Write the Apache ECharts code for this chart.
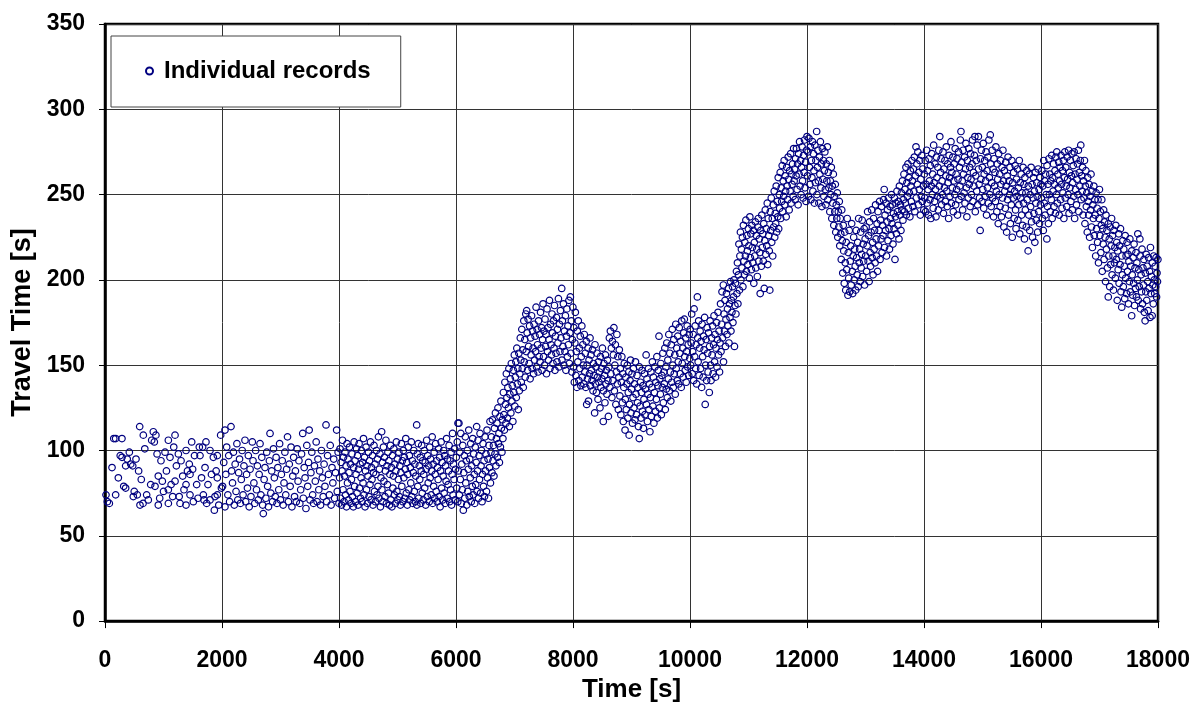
<!DOCTYPE html>
<html>
<head>
<meta charset="utf-8">
<title>Travel time records</title>
<script src="https://cdn.jsdelivr.net/npm/echarts/dist/echarts.min.js"></script>
<style>
  html, body { margin: 0; padding: 0; background: #fff; }
  #chart { width: 1200px; height: 708px; }
</style>
</head>
<body>
<div id="chart"></div>
<script>
// Individual vehicle records: [time of record (s), travel time (s)]
const freeFlowA = [
[17,74],[40,70],[74,69],[120,90],[150,107],[182,107],[182,74],[228,84],[260,97],[290,107],[291,96],[320,79],[353,78],[353,91],[380,95],[416,99],[440,92],[474,91],[484,73],[500,76],[530,95],[552,74],[575,88],[593,114],[598,68],[620,83],[650,69],[655,109],[680,101],[712,74],[740,71],[781,80],[798,106],[826,111],[843,105],[855,79],[870,109],[890,98],[911,85],[911,68],[935,72],[957,94],[980,82],[1000,76],[1026,99],[1050,88],[1083,106],[1083,77],[1083,69],[1111,96],[1130,80],[1157,73],[1175,102],[1197,109],[1197,82],[1220,91],[1254,98],[1268,73],[1283,69],[1300,94],[1328,85],[1350,77],[1385,100],[1385,80],[1385,68],[1410,88],[1441,92],[1453,86],[1453,74],[1482,105],[1498,89],[1510,70],[1530,97],[1567,80],[1590,72],[1612,102],[1624,97],[1650,84],[1669,102],[1681,74],[1692,71],[1710,90],[1726,105],[1738,69],[1760,80],[1795,100],[1795,71],[1820,86],[1852,96],[1869,65],[1880,73],[1900,88],[1920,97],[1920,84],[1920,74],[1945,68],[1977,109],[1990,78]
];
const freeFlowB = [
[2010,79],[2030,93],[2051,112],[2051,67],[2065,86],[2080,102],[2100,74],[2115,97],[2130,70],[2154,114],[2165,88],[2180,81],[2195,99],[2210,68],[2225,92],[2240,76],[2255,104],[2270,71],[2285,87],[2300,95],[2315,69],[2330,83],[2345,100],[2360,74],[2375,91],[2393,106],[2405,70],[2420,86],[2435,78],[2450,97],[2465,67],[2480,89],[2495,73],[2518,105],[2530,94],[2545,81],[2560,69],[2575,100],[2590,77],[2605,91],[2620,71],[2635,86],[2650,104],[2665,74],[2680,96],[2695,68],[2706,63],[2720,83],[2735,90],[2750,72],[2765,99],[2780,79],[2795,67],[2810,94],[2821,110],[2835,75],[2850,88],[2865,70],[2880,101],[2895,84],[2910,73],[2925,96],[2940,69],[2955,90],[2970,77],[2985,104],[3000,71],[3015,86],[3030,94],[3045,68],[3060,81],[3075,99],[3090,74],[3105,89],[3120,108],[3135,70],[3150,92],[3165,79],[3180,102],[3195,67],[3210,85],[3225,96],[3240,73],[3255,88],[3270,70],[3285,101],[3300,82],[3315,94],[3330,69],[3345,77],[3360,98],[3380,110],[3390,72],[3405,90],[3420,84],[3435,66],[3450,103],[3465,79],[3480,93],[3490,112],[3505,71],[3520,87],[3535,99],[3550,74],[3565,69],[3580,91],[3595,82],[3610,105],[3625,70],[3640,95],[3655,77],[3670,88],[3685,68],[3700,100],[3715,84],[3730,73],[3745,92],[3760,79],[3778,115],[3790,70],[3805,97],[3820,86],[3835,74],[3850,103],[3865,68],[3880,90],[3895,81],[3910,95],[3925,72],[3940,87],[3960,112],[3970,76],[3985,99],[4000,69]
];
const freeFlowC = [
[4010,84],[4018,101],[4026,72],[4035,93],[4043,68],[4052,88],[4060,106],[4069,77],[4077,96],[4086,70],[4094,85],[4103,99],[4111,74],[4120,91],[4128,67],[4137,104],[4145,81],[4154,95],[4162,71],[4171,87],[4179,102],[4188,76],[4196,92],[4205,69],[4213,83],[4222,98],[4230,73],[4245,67],[4250,90],[4258,105],[4266,79],[4275,94],[4283,70],[4292,86],[4300,101],[4309,75],[4317,97],[4326,68],[4334,89],[4343,104],[4351,78],[4360,92],[4368,72],[4377,84],[4385,100],[4394,70],[4402,93],[4411,81],[4419,107],[4428,74],[4436,96],[4445,67],[4453,88],[4462,102],[4470,77],[4479,91],[4487,69],[4496,85],[4504,99],[4513,73],[4521,94],[4530,80],[4538,105],[4547,71],[4555,90],[4564,83],[4572,97],[4581,68],[4589,87],[4598,103],[4606,76],[4615,92],[4623,70],[4632,86],[4640,100],[4649,74],[4657,95],[4666,79],[4674,108],[4683,72],[4691,89],[4700,98],[4708,67],[4717,84],[4729,111],[4734,77],[4743,93],[4751,70],[4760,102],[4768,82],[4777,96],[4785,73],[4794,88],[4802,106],[4811,69],[4819,91],[4828,80],[4836,99],[4845,75],[4853,94],[4862,68],[4870,86],[4879,103],[4887,71],[4896,90],[4904,67],[4913,97],[4921,78],[4930,85],[4938,101],[4947,74],[4955,92],[4964,69],[4972,88],[4981,105],[4989,76],[4998,95],[5006,71],[5015,83],[5023,99],[5032,73],[5040,91],[5049,68],[5057,87],[5066,104],[5074,79],[5083,94],[5091,70],[5100,100],[5108,84],[5117,96],[5125,72],[5134,89],[5142,107],[5151,75],[5159,93],[5168,68],[5176,86],[5185,102],[5193,77],[5202,97],[5210,71],[5219,90],[5227,81],[5236,105],[5244,73],[5253,94],[5261,69],[5270,87],[5278,100],[5287,76],[5295,92],[5304,70],[5312,85],[5328,115],[5330,68],[5338,98],[5346,79],[5355,104],[5363,72],[5372,91],[5380,83],[5389,96],[5397,69],[5406,88],[5414,103],[5423,75],[5431,94],[5440,71],[5448,86],[5457,100],[5465,78],[5474,93],[5482,68],[5491,89],[5499,106],[5508,73],[5516,97],[5525,81],[5533,91],[5542,70],[5550,102],[5559,84],[5567,95],[5576,74],[5584,88],[5593,108],[5601,69],[5610,92],[5618,79],[5627,99],[5635,72],[5644,86],[5652,104],[5661,76],[5669,94],[5678,70],[5686,90],[5695,83],[5703,101],[5712,73],[5720,96],[5729,67],[5737,88],[5746,105],[5754,78],[5763,93],[5771,71],[5780,85],[5788,100],[5797,75],[5805,97],[5814,69],[5822,91],[5831,82],[5839,107],[5848,72],[5856,95],[5865,80],[5873,88],[5882,103],[5890,70],[5899,94],[5907,77],[5916,99],[5924,68],[5933,86],[5941,110],[5950,74],[5958,92],[5967,83],[5975,101],[5984,71],[5992,89]
];
const onsetRecords = [
[6005,96],[6013,78],[6022,105],[6030,70],[6034,116],[6040,88],[6050,116],[6057,74],[6065,99],[6074,83],[6082,110],[6091,69],[6099,92],[6108,77],[6116,103],[6125,65],[6133,87],[6142,97],[6150,72],[6159,108],[6167,81],[6176,94],[6184,68],[6193,100],[6201,76],[6210,89],[6218,112],[6227,73],[6235,95],[6244,84],[6252,104],[6261,70],[6269,91],[6278,79],[6286,107],[6295,74],[6303,98],[6312,86],[6320,69],[6329,102],[6337,80],[6346,93],[6353,114],[6360,76],[6368,88],[6377,106],[6385,72],[6394,97],[6402,83],[6411,110],[6419,75],[6428,91],[6436,100],[6445,70],[6453,86],[6462,104],[6470,79],[6479,94],[6487,73],[6496,108],[6504,88],[6513,98],[6521,76],[6530,112],[6538,84],[6547,95],[6555,72],[6564,103],[6572,90],[6581,117],[6589,81],[6598,99],[6606,108],[6615,87],[6623,118],[6632,94],[6640,103],[6649,85],[6657,113],[6666,98],[6674,122],[6683,91],[6691,107],[6700,116],[6708,96],[6717,125],[6725,104],[6734,110],[6742,93],[6751,120],[6759,102],[6768,129],[6776,113],[6785,99],[6793,118],
[6802,107],[6810,134],[6819,121],[6827,112],[6836,140],[6844,127],[6853,116],[6861,145],[6870,131],[6878,119],[6887,137],[6895,125],[6904,148],[6912,114],[6921,133],[6929,142],[6938,122],[6946,151],[6955,129],[6963,138],[6972,117],[6980,147],[6989,134],[6997,156],[7006,126],[7014,143],[7023,152],[7031,131],[7040,160],[7048,139],[7057,148],[7065,124],[7074,157],[7082,135],[7091,145],[7099,166],[7108,153],[7116,140],[7125,171],[7133,148],[7142,159],[7150,137],[7159,176],[7167,152],[7176,165],[7184,143],[7193,180],[7201,158],[7208,182],[7216,169],[7224,147],[7233,177],[7241,161],[7250,151],[7258,173],[7267,142],[7275,166],[7284,156],[7292,179],[7301,148],[7309,170],[7318,160],[7326,145],[7335,174],[7343,153],[7352,167],[7360,158],[7369,184],[7377,149],[7386,171],[7394,162],[7403,146],[7411,176],[7420,155],[7428,168],[7437,152],[7445,181],[7454,160],[7462,172],[7471,147],[7479,165],[7488,186],[7496,155],[7505,170],[7513,150],[7522,177],[7530,161],[7539,168],[7547,145],[7556,183],[7564,158],[7573,172],[7581,153],[7590,165],[7598,188],[7607,148],[7615,174],[7624,162],[7632,156],[7641,180],[7649,169],[7658,151],[7666,176],[7675,160],[7683,185],[7692,147],[7700,167],[7709,157],[7717,178],[7726,152],[7734,171],[7743,163],[7751,189],[7760,149],[7768,174],[7777,158],[7785,182],[7794,166],[7807,195],[7811,153],[7819,176],[7828,161],[7836,186],[7845,150],[7853,170],[7862,158],[7870,179],[7879,147],[7887,167],[7896,183],[7904,155],[7913,173],[7921,162],[7930,188],[7938,151],[7947,169],[7955,190],[7964,157],[7972,176],[7981,146],[7989,165],[7998,184]
];
const firstQueueRecords = [
[8006,149],[8015,172],[8023,140],[8032,163],[8040,181],[8049,144],[8057,158],[8066,137],[8074,170],[8083,152],[8091,176],[8100,141],[8108,160],[8117,148],[8125,167],[8134,138],[8142,155],[8151,173],[8159,143],[8168,162],[8176,150],[8185,139],[8193,168],[8202,146],[8210,157],[8219,137],[8227,164],[8234,127],[8240,150],[8248,142],[8257,160],[8265,129],[8274,153],[8282,145],[8291,166],[8299,138],[8308,156],[8316,147],[8325,141],[8333,159],[8342,135],[8350,151],[8359,144],[8370,122],[8376,162],[8384,139],[8393,149],[8401,134],[8410,157],[8418,143],[8427,130],[8435,152],[8444,140],[8452,146],[8461,125],[8469,155],[8478,137],[8486,148],[8495,142],[8503,160],[8518,117],[8520,135],[8529,151],[8537,144],[8546,128],[8554,156],[8563,139],[8571,147],[8580,133],[8588,153],[8597,141],[8605,120],[8614,149],[8622,166],[8631,137],[8639,170],[8648,145],[8656,160],[8665,131],[8673,164],[8682,141],[8690,156],[8699,172],[8707,135],[8716,150],[8724,162],[8733,127],[8741,146],[8750,168],[8758,139],[8767,155],[8775,124],[8784,143],[8792,159],
[8801,132],[8809,148],[8818,121],[8826,140],[8835,155],[8843,128],[8852,145],[8860,117],[8869,137],[8877,151],[8890,112],[8894,130],[8903,143],[8911,124],[8920,139],[8928,150],[8937,119],[8945,134],[8954,146],[8960,109],[8966,127],[8975,141],[8983,153],[8992,122],[9000,136],[9009,145],[9017,116],[9026,131],[9034,148],[9043,125],[9051,139],[9060,118],[9068,152],[9077,133],[9085,121],[9094,144],[9102,128],[9111,137],[9119,114],[9133,107],[9136,149],[9145,126],[9153,140],[9162,119],[9170,134],[9179,147],[9187,123],[9196,138],[9204,113],[9213,130],[9221,145],[9230,121],[9238,136],[9250,156],[9255,127],[9264,142],[9272,117],[9281,133],[9289,148],[9298,124],[9306,139],[9315,111],[9323,131],[9332,146],[9340,120],[9349,137],[9357,152],[9366,126],[9374,143],[9383,116],[9391,134],[9400,149],[9408,123],[9417,140],[9425,130],[9434,155],[9442,119],[9451,138],[9459,147],[9470,167],[9476,125],[9485,142],[9493,133],[9502,151],[9510,121],[9519,144],[9527,137],[9536,157],[9544,128],[9553,146],[9561,139],[9570,160],[9578,124],[9587,149],[9595,136],[9604,163],[9612,131],[9621,153],[9629,142],[9638,168],[9646,135],[9655,157],[9663,146],[9672,129],[9680,162],[9689,140],[9697,171],[9706,150],[9714,137],[9723,165],[9731,145],[9740,156],[9748,133],[9757,174],[9765,148],[9774,160],[9782,141],[9791,167],[9799,152],[9808,139],[9816,172],[9825,157],[9833,145],[9842,164],[9850,137],[9859,176],[9867,151],[9876,160],[9884,143],[9893,169],[9903,177],[9910,155],[9918,147],[9927,166],[9935,140],[9944,158],[9952,173],[9961,149],[9969,162],[9978,144],[9986,168],[9995,154]
];
const growthRecords = [
[10003,171],[10012,150],[10020,163],[10029,180],[10037,145],[10046,158],[10054,168],[10063,141],[10070,183],[10080,155],[10088,173],[10097,148],[10105,162],[10114,139],[10126,190],[10131,166],[10139,152],[10148,176],[10156,144],[10165,160],[10173,170],[10182,148],[10190,164],[10199,137],[10207,174],[10216,155],[10224,143],[10233,167],[10241,159],[10250,178],[10260,127],[10267,150],[10275,165],[10284,141],[10292,172],[10301,157],[10309,146],[10318,169],[10330,134],[10335,161],[10343,176],[10352,150],[10360,141],[10369,166],[10377,156],[10386,173],[10394,145],[10403,162],[10411,179],[10420,152],[10428,168],[10437,143],[10445,160],[10454,175],[10462,149],[10471,165],[10479,181],[10488,156],[10496,170],[10505,146],[10513,163],[10522,186],[10530,158],[10539,174],[10547,193],[10556,166],[10570,197],[10573,152],[10581,180],[10590,170],[10598,188],[10607,161],[10615,177],[10624,192],[10632,168],[10641,183],[10649,173],[10658,195],[10666,163],[10675,186],[10683,178],[10692,199],[10700,170],[10709,188],[10717,181],[10726,196],[10734,175],[10743,190],[10751,200],[10760,161],[10768,185],[10777,198],[10785,180],[10794,205],[10802,192],
[10811,210],[10819,186],[10828,203],[10836,221],[10845,194],[10853,214],[10862,228],[10870,200],[10879,218],[10887,207],[10896,225],[10904,196],[10913,232],[10921,211],[10930,203],[10938,222],[10947,214],[10955,235],[10964,205],[10972,226],[10981,217],[10989,209],[10998,230],[11006,220],[11015,201],[11023,237],[11032,213],[11040,227],[11049,206],[11057,232],[11066,219],[11074,210],[11083,229],[11091,198],[11100,222],[11108,214],[11117,234],[11125,207],[11134,226],[11142,218],[11151,202],[11160,231],[11168,236],[11176,211],[11185,224],[11193,216],[11200,192],[11210,229],[11219,208],[11227,238],[11236,219],[11244,227],[11253,211],[11261,233],[11270,195],[11278,223],[11287,241],[11295,215],[11304,230],[11312,220],[11321,245],[11329,209],[11338,236],[11346,226],[11355,217],[11364,194],[11372,240],[11380,229],[11389,248],[11397,222],[11406,236],[11414,214],[11423,244],[11431,231],[11440,252],[11448,225],[11457,239],[11465,233],[11474,255],[11482,228],[11491,246],[11499,237],[11508,260],[11516,230],[11525,250],[11533,242],[11542,263],[11550,236],[11559,254],[11567,246],[11576,267],[11584,240],[11593,258],[11601,249],[11610,270],[11618,244],[11627,261],[11635,252],[11644,237],[11652,266],[11661,255],[11669,247],[11678,272],[11686,259],[11695,241],[11703,264],[11712,252],[11720,274],[11729,245],[11737,262],[11746,256],[11754,268],[11763,249],[11771,277],[11780,258],[11788,265],[11797,247],[11805,271],[11814,261],[11820,277],[11831,253],[11839,268],[11848,244],[11856,274],[11865,262],[11873,281],[11882,255],[11890,270],[11899,250],[11907,266],[11916,278],[11924,258],[11933,248],[11941,273],[11950,263],[11958,282],[11967,254],[11975,269],[11984,246],[11992,276],[12000,284]
];
const peakRecords = [
[12008,261],[12016,275],[12025,249],[12033,283],[12042,266],[12050,256],[12059,278],[12067,247],[12076,270],[12084,260],[12093,281],[12101,252],[12110,274],[12118,264],[12127,245],[12135,279],[12144,257],[12152,270],[12165,287],[12169,250],[12178,266],[12186,276],[12195,258],[12203,245],[12212,272],[12220,262],[12229,281],[12237,254],[12246,268],[12254,243],[12263,277],[12271,259],[12280,270],[12288,249],[12297,264],[12305,275],[12314,253],[12322,244],[12331,268],[12339,258],[12348,278],[12356,247],[12365,263],[12373,254],[12382,270],[12390,240],[12399,258],[12407,250],[12416,266],[12424,236],[12433,255],[12441,245],[12450,262],[12458,232],[12467,249],[12475,240],[12484,256],[12492,228],[12501,244],[12509,236],[12518,251],[12526,225],[12535,240],[12543,231],[12552,246],[12560,220],[12569,236],[12577,227],[12586,212],[12594,241],[12603,223],[12611,204],[12620,232],[12628,217],[12637,198],[12645,228],[12654,210],[12662,194],[12671,222],[12679,206],[12688,236],[12700,191],[12705,216],[12713,201],[12722,229],[12730,193],[12739,211],[12747,220],[12756,197],[12764,233],[12773,205],[12781,192],[12790,214],[12798,225],[12807,200],[12815,218],[12824,208],[12832,194],[12841,229],[12849,213],[12858,203],[12866,222],[12875,196],[12883,236],[12892,210],[12900,218],[12909,199],[12917,228],[12926,207],[12934,215],[12943,235],[12951,202],[12960,221],[12968,211],[12977,230],[12985,197],[12994,224],
[13002,214],[13011,231],[13019,205],[13028,220],[13036,240],[13045,211],[13053,226],[13062,199],[13070,234],[13079,216],[13087,208],[13096,228],[13104,241],[13113,213],[13121,222],[13130,203],[13138,236],[13147,218],[13155,229],[13164,210],[13172,244],[13181,224],[13189,214],[13198,233],[13206,205],[13215,240],[13223,220],[13232,229],[13240,246],[13249,212],[13257,235],[13266,224],[13274,243],[13283,216],[13291,232],[13300,226],[13308,247],[13320,253],[13325,219],[13334,238],[13342,229],[13351,245],[13359,214],[13368,234],[13376,241],[13385,223],[13393,248],[13402,230],[13410,218],[13419,243],[13427,236],[13436,226],[13444,250],[13453,233],[13461,244],[13470,221],[13478,239],[13487,230],[13495,248],[13504,212],[13512,237],[13521,245],[13529,227],[13538,252],[13546,240],[13555,232],[13563,246],[13572,224],[13580,255],[13589,238],[13597,244],[13606,229],[13614,251],[13623,241],[13631,258],[13640,235],[13648,247],[13657,262],[13665,240],[13674,253],[13682,245],[13691,266],[13699,238],[13708,257],[13716,249],[13725,268],[13733,242],[13742,260],[13750,251],[13759,237],[13767,264],[13776,255],[13784,246],[13793,270],[13801,258],[13810,243],[13818,265],[13827,252],[13835,272],[13844,240],[13852,261],[13863,278],[13869,248],[13878,268],[13886,256],[13895,275],[13903,244],[13912,263],[13920,253],[13929,270],[13937,238],[13946,259],[13954,249],[13963,273],[13971,246],[13980,265],[13988,255],[13997,241]
];
const plateauRecords = [
[14005,262],[14013,248],[14021,270],[14029,240],[14037,256],[14045,276],[14053,245],[14061,264],[14069,253],[14077,238],[14085,271],[14093,258],[14101,247],[14109,267],[14117,236],[14125,255],[14133,274],[14141,250],[14149,262],[14157,242],[14165,279],[14173,257],[14181,246],[14189,268],[14197,253],[14205,237],[14213,272],[14221,260],[14229,249],[14237,266],[14245,241],[14253,276],[14261,255],[14270,284],[14277,248],[14285,263],[14293,271],[14301,244],[14309,258],[14317,250],[14325,275],[14333,239],[14341,265],[14349,254],[14357,270],[14365,246],[14373,261],[14381,278],[14389,252],[14397,243],[14405,268],[14413,257],[14421,236],[14429,273],[14437,260],[14445,249],[14453,266],[14461,281],[14469,245],[14477,263],[14485,254],[14493,272],[14501,240],[14509,258],[14517,268],[14525,250],[14533,277],[14541,244],[14549,262],[14557,253],[14565,271],[14573,238],[14581,259],[14589,275],[14597,247],[14605,266],[14613,255],[14621,282],[14632,287],[14637,249],[14645,269],[14653,258],[14661,241],[14669,276],[14677,262],[14685,251],[14693,272],[14701,245],[14709,265],[14717,280],[14725,254],[14733,237],[14741,270],[14749,260],[14757,248],[14765,277],[14773,256],[14781,266],[14789,243],[14797,274],[14805,259],[14813,250],[14821,268],[14829,282],[14837,246],[14845,263],[14853,255],[14861,273],[14870,284],[14877,240],[14885,261],[14893,270],[14901,252],[14909,279],[14917,244],[14930,284],[14933,265],[14941,256],[14949,248],[14960,229],[14965,271],[14973,259],[14981,276],[14989,246],[14997,266],[15005,253],[15013,280],[15021,242],[15029,262],[15037,270],[15045,249],[15053,258],[15061,275],[15069,238],[15077,264],[15085,254],[15093,272],[15101,245],[15109,282],[15117,260],[15125,250],[15133,285],[15141,268],[15149,243],[15157,257],[15165,276],[15173,248],[15181,265],[15189,237],[15197,271],[15205,255],[15213,263],[15221,246],[15229,278],[15237,252],[15245,240],[15253,268],[15261,259],[15269,233],[15277,274],[15285,250],[15293,262],[15301,243],[15309,270],[15317,256],[15325,237],[15333,266],[15341,248],[15349,276],[15357,258],[15365,231],[15373,264],[15381,252],[15389,242],[15397,269],[15405,255],[15413,228],[15421,261],[15429,247],[15437,272],[15445,238],[15453,258],[15461,250],[15469,266],[15477,233],[15485,253],[15493,244],[15501,270],[15509,225],[15517,257],[15525,248],[15533,263],[15541,236],[15549,252],[15557,267],[15565,241],[15573,230],[15581,259],[15589,249],[15597,265],[15605,235],[15613,254],[15621,244],[15629,270],[15637,227],[15645,257],[15653,248],[15661,262],[15669,238],[15677,251],[15685,232],[15693,266],[15701,245],[15709,256],[15717,224],[15725,260],[15733,241],[15741,251],[15749,231],[15757,264],[15765,247],[15780,217],[15783,255],[15791,238],[15799,262],[15807,229],[15815,250],[15823,243],[15831,266],[15839,234],[15847,256],[15855,225],[15863,248],[15871,260],[15879,239],[15887,252],[15895,222],[15903,263],[15911,245],[15919,235],[15927,257],[15935,249],[15943,228],[15951,265],[15959,240],[15967,253],[15975,233],[15983,260],[15991,244],[15999,256]
];
const recoveryRecords = [
[16007,248],[16015,264],[16023,236],[16031,255],[16039,229],[16047,270],[16055,245],[16063,258],[16071,238],[16079,262],[16087,250],[16100,224],[16103,267],[16111,243],[16119,256],[16127,233],[16135,271],[16143,250],[16151,262],[16159,240],[16167,258],[16175,247],[16183,273],[16191,236],[16199,260],[16207,252],[16215,268],[16223,243],[16231,256],[16239,264],[16247,239],[16255,272],[16263,250],[16270,275],[16279,245],[16287,262],[16295,254],[16303,269],[16311,238],[16319,258],[16327,266],[16335,247],[16343,273],[16351,256],[16359,242],[16367,264],[16375,251],[16383,270],[16391,236],[16399,260],[16407,275],[16415,248],[16423,266],[16431,255],[16439,243],[16447,272],[16455,259],[16463,250],[16471,276],[16479,239],[16487,263],[16495,254],[16503,270],[16511,246],[16519,261],[16527,274],[16535,241],[16543,257],[16551,267],[16559,249],[16567,275],[16575,236],[16583,262],[16591,253],[16599,271],[16607,244],[16615,259],[16623,268],[16631,250],[16639,276],[16647,240],[16655,263],[16663,255],[16671,270],[16680,279],[16687,247],[16695,261],[16703,252],[16711,266],[16719,238],[16727,258],[16735,248],[16743,270],[16751,233],[16759,255],[16767,264],[16775,243],[16783,251],[16791,228],[16799,260],[16807,246],[16815,238],[16823,256],[16831,225],[16839,249],[16847,241],[16855,262],[16863,231],[16871,252],[16879,219],[16887,244],[16895,236],[16903,255],[16911,226],[16919,247],[16927,238],[16935,214],[16943,251],[16951,230],[16959,242],[16967,222],[16975,247],[16983,210],[16991,236],[16999,253],[17007,226],[17015,240],[17023,216],[17031,232],[17039,247],[17047,205],[17055,230],[17063,221],[17071,241],[17079,212],[17087,234],[17095,225],[17103,199],[17111,238],[17119,218],[17127,229],[17135,207],[17150,190],[17151,233],[17159,214],[17167,224],[17175,196],[17183,231],[17191,209],[17199,220],[17207,236],[17215,203],[17223,226],[17231,214],[17239,194],[17247,229],[17255,210],[17263,219],[17271,201],[17279,232],[17287,212],[17295,222],[17303,188],[17311,217],[17319,206],[17327,227],[17335,198],[17343,220],[17351,209],[17359,230],[17367,193],[17380,184],[17383,214],[17391,203],[17399,223],[17407,196],[17415,218],[17423,208],[17431,189],[17439,226],[17447,201],[17455,214],[17463,192],[17471,222],[17479,205],[17487,215],[17495,186],[17503,211],[17511,199],[17519,224],[17527,193],[17535,208],[17550,179],[17551,217],[17559,203],[17567,191],[17575,213],[17583,198],[17591,221],[17599,185],[17607,207],[17615,195],[17623,216],[17631,190],[17639,210],[17647,200],[17655,227],[17663,188],[17671,206],[17679,196],[17690,224],[17695,214],[17703,183],[17711,203],[17719,193],[17727,218],[17735,186],[17743,207],[17751,197],[17759,212],[17767,181],[17780,176],[17783,204],[17791,193],[17799,215],[17807,188],[17815,208],[17823,199],[17831,182],[17839,213],[17847,195],[17855,205],[17863,178],[17871,219],[17879,192],[17887,202],[17900,179],[17903,210],[17911,197],[17919,186],[17927,214],[17935,200],[17943,192],[17951,208],[17959,196],[17967,213],[17975,190],[17983,204],[17991,199],[17998,212]
];

const seriesName = 'Individual records';
const xTitle = 'Time [s]';
const yTitle = 'Travel Time [s]';

const records = [].concat(
  freeFlowA, freeFlowB, freeFlowC, onsetRecords, firstQueueRecords,
  growthRecords, peakRecords, plateauRecords, recoveryRecords
);

const FONT = '"Liberation Sans", Arial, sans-serif';
const chart = echarts.init(document.getElementById('chart'), null, { renderer: 'canvas' });

chart.setOption({
  animation: false,
  backgroundColor: '#fff',
  grid: {
    left: 105, right: 42, top: 24, bottom: 83,
    show: true, borderColor: '#000', borderWidth: 2.5, backgroundColor: 'transparent'
  },
  legend: {
    data: [seriesName],
    left: 111, top: 36,
    orient: 'vertical',
    padding: [23, 30, 24, 34],
    itemWidth: 7, itemHeight: 7,
    backgroundColor: '#fff',
    borderColor: '#444', borderWidth: 1,
    textStyle: { fontFamily: FONT, fontWeight: 'bold', fontSize: 24, color: '#000', padding: [0, 0, 0, 6] }
  },
  xAxis: {
    type: 'value', min: 0, max: 18000, interval: 2000,
    name: xTitle, nameLocation: 'middle', nameGap: 55,
    nameTextStyle: { fontFamily: FONT, fontWeight: 'bold', fontSize: 26, color: '#000' },
    axisLine: { show: true, lineStyle: { color: '#000', width: 2.5 } },
    axisTick: { show: true, inside: false, length: 7, lineStyle: { color: '#000', width: 1 } },
    axisLabel: {
      margin: 28, fontFamily: FONT, fontWeight: 'bold', fontSize: 23, color: '#000',
      formatter: (v) => String(v)
    },
    splitLine: { show: true, lineStyle: { color: '#333', width: 1 } }
  },
  yAxis: {
    type: 'value', min: 0, max: 350, interval: 50,
    name: yTitle, nameLocation: 'middle', nameGap: 66, nameRotate: 90,
    nameTextStyle: { fontFamily: FONT, fontWeight: 'bold', fontSize: 27, color: '#000' },
    axisLine: { show: true, lineStyle: { color: '#000', width: 2.5 } },
    axisTick: { show: true, inside: false, length: 6, lineStyle: { color: '#000', width: 1 } },
    axisLabel: {
      margin: 20, fontFamily: FONT, fontWeight: 'bold', fontSize: 23, color: '#000',
      formatter: (v) => String(v)
    },
    splitLine: { show: true, lineStyle: { color: '#333', width: 1 } }
  },
  series: [{
    name: seriesName,
    type: 'scatter',
    data: records,
    symbol: 'circle',
    symbolSize: 6.5,
    itemStyle: { color: 'rgba(255,255,255,0)', borderColor: '#000080', borderWidth: 1.2, opacity: 1 },
    emphasis: { disabled: true }
  }]
});
</script>
</body>
</html>
